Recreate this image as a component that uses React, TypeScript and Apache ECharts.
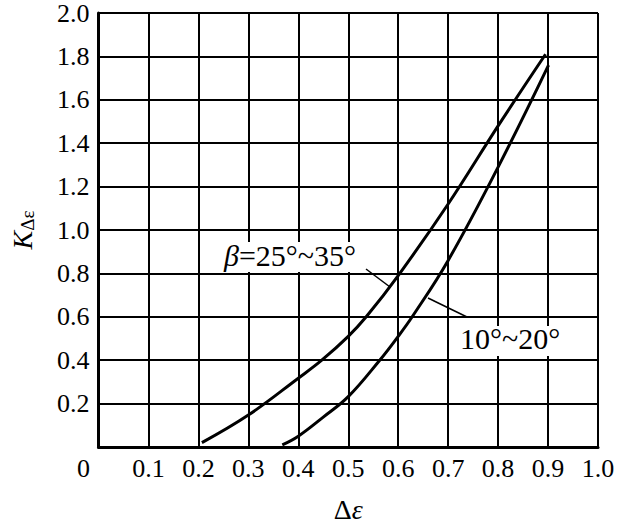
import React, { useEffect, useRef } from "react";
import * as echarts from "echarts";

const upperX = [0.207, 0.3, 0.4, 0.447, 0.5, 0.536, 0.6, 0.7, 0.8, 0.895];
const upperY = [0.02, 0.147, 0.317, 0.4, 0.51, 0.6, 0.79, 1.12, 1.48, 1.81];
const lowerX = [0.368, 0.4, 0.45, 0.5, 0.563, 0.6, 0.628, 0.7, 0.8, 0.901];
const lowerY = [0.01, 0.05, 0.138, 0.232, 0.4, 0.51, 0.6, 0.86, 1.29, 1.76];
const upperSymbol = "β";
const upperRange = "=25°~35°";
const lowerLabel = "10°~20°";

const FONT = "Liberation Serif, Times New Roman, serif";

export default function App() {
  const ref = useRef<HTMLDivElement>(null);
  useEffect(() => {
    if (!ref.current) return;
    const chart = echarts.init(ref.current, undefined, { renderer: "svg" });
    const lineStyle = { color: "#000", width: 3 };
    chart.setOption({
      animation: false,
      backgroundColor: "#fff",
      textStyle: { fontFamily: FONT, color: "#000" },
      grid: { left: 92, right: 22, top: 11, bottom: 69 },
      xAxis: {
        type: "value",
        min: 0,
        max: 1,
        interval: 0.1,
        name: "{d|Δ}{e|ε}",
        nameLocation: "middle",
        nameGap: 48,
        nameTextStyle: {
          rich: {
            d: { fontFamily: FONT, fontSize: 28, color: "#000" },
            e: { fontFamily: FONT, fontSize: 28, fontStyle: "italic", color: "#000" },
          },
        },
        axisLine: { show: true, lineStyle: { color: "#000", width: 3 } },
        axisTick: { show: false },
        splitLine: { show: true, lineStyle: { color: "#000", width: 2 } },
        axisLabel: {
          fontFamily: FONT,
          fontSize: 26,
          color: "#000",
          margin: 8,
          formatter: (v: number) => (Math.abs(v) < 1e-9 ? "{z|0}" : v.toFixed(1)),
          rich: { z: { fontFamily: FONT, fontSize: 26, color: "#000", padding: [0, 30, 0, 0] } },
        },
      },
      yAxis: {
        type: "value",
        min: 0,
        max: 2,
        interval: 0.2,
        name: "{k|K}{s|Δε}",
        nameLocation: "middle",
        nameRotate: 90,
        nameGap: 62,
        nameTextStyle: {
          rich: {
            k: { fontFamily: FONT, fontSize: 28, fontStyle: "italic", color: "#000" },
            s: { fontFamily: FONT, fontSize: 19, color: "#000", verticalAlign: "bottom", padding: [10, 0, 0, 0] },
          },
        },
        axisLine: { show: true, lineStyle: { color: "#000", width: 3 } },
        axisTick: { show: false },
        splitLine: { show: true, lineStyle: { color: "#000", width: 2 } },
        axisLabel: {
          fontFamily: FONT,
          fontSize: 26,
          color: "#000",
          margin: 9,
          formatter: (v: number) => (Math.abs(v) < 1e-9 ? "" : v.toFixed(1)),
        },
      },
      series: [
        {
          type: "line",
          data: upperX.map((x, i) => [x, upperY[i]]),
          smooth: 0.4,
          showSymbol: false,
          lineStyle,
        },
        {
          type: "line",
          data: lowerX.map((x, i) => [x, lowerY[i]]),
          smooth: 0.4,
          showSymbol: false,
          lineStyle,
        },
      ],
      graphic: [
        { type: "rect", left: 224, top: 242, shape: { width: 152, height: 30 }, style: { fill: "#fff" }, z: 10 },
        {
          type: "text",
          left: 224,
          top: 240,
          style: {
            text: "{b|" + upperSymbol + "}{a|" + upperRange + "}",
            rich: {
              b: { fontFamily: "Liberation Serif", fontSize: 30, fontStyle: "italic", fill: "#000" },
              a: { fontFamily: "Liberation Serif", fontSize: 30, fill: "#000" },
            },
          },
          z: 11,
        },
        { type: "line", shape: { x1: 366, y1: 269, x2: 390, y2: 287 }, style: { stroke: "#000", lineWidth: 1.5 }, z: 11 },
        { type: "rect", left: 458, top: 326, shape: { width: 106, height: 30 }, style: { fill: "#fff" }, z: 10 },
        {
          type: "text",
          left: 460,
          top: 323,
          style: {
            text: "{a|" + lowerLabel + "}",
            rich: { a: { fontFamily: "Liberation Serif", fontSize: 30, fill: "#000" } },
          },
          z: 11,
        },
        { type: "line", shape: { x1: 467, y1: 317, x2: 428, y2: 298 }, style: { stroke: "#000", lineWidth: 1.5 }, z: 11 },
      ],
    });
    return () => chart.dispose();
  }, []);
  return <div ref={ref} style={{ position: "fixed", left: 0, top: 0, width: 620, height: 528 }} />;
}
